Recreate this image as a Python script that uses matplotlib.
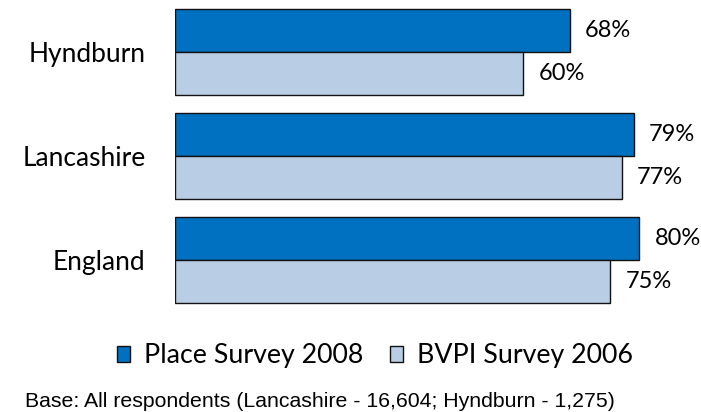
import matplotlib
matplotlib.use('Agg')
from matplotlib import pyplot as plt
from matplotlib.patches import Patch
import numpy as np

# data
areas = ['Hyndburn', 'Lancashire', 'England']
place_2008 = [68, 79, 80]
bvpi_2006 = [60, 77, 75]
series_names = ['Place Survey 2008', 'BVPI Survey 2006']
footer = 'Base: All respondents (Lancashire - 16,604; Hyndburn - 1,275)'

dark = '#0070C0'
light = '#B9CDE5'
label_font = 'Lato'

fig = plt.figure(figsize=(7.01, 4.12), dpi=100)
ax = fig.add_axes([0.249, 0.2427, 0.751, 0.7573])

y = np.arange(len(areas))
h = 0.41
ax.barh(y - h / 2, place_2008, height=h, color=dark, edgecolor='#111111', linewidth=1.0)
ax.barh(y + h / 2, bvpi_2006, height=h, color=light, edgecolor='#111111', linewidth=1.0)

# percentage labels next to the bars
for i in range(len(areas)):
    ax.text(place_2008[i] + 2.6, y[i] - h / 2, '{}%'.format(place_2008[i]),
            va='center', ha='left', fontsize=17, family=label_font)
    ax.text(bvpi_2006[i] + 2.6, y[i] + h / 2, '{}%'.format(bvpi_2006[i]),
            va='center', ha='left', fontsize=17, family=label_font)

ax.set_xlim(0, 90.6)
ax.set_ylim(2.5, -0.5)
ax.set_yticks(y)
ax.set_yticklabels(areas, fontsize=19, family=label_font)
ax.tick_params(axis='y', length=0, pad=21)
ax.set_xticks([])
for s in ax.spines.values():
    s.set_visible(False)

handles = [Patch(facecolor=dark, edgecolor='#111111', linewidth=1.0),
           Patch(facecolor=light, edgecolor='#111111', linewidth=1.0)]
fig.legend(handles, series_names, loc='center left', bbox_to_anchor=(117 / 701, 1 - 356 / 412),
           ncol=2, frameon=False, prop={'family': label_font, 'size': 19.3},
           handlelength=0.5, handleheight=0.5, handletextpad=0.5, columnspacing=1.0,
           borderpad=0, borderaxespad=0)

fig.text(25 / 701, 5 / 412, footer, fontsize=15.3, family='Liberation Sans', va='baseline', ha='left')

plt.savefig('out.png', dpi=100)
plt.close(fig)
